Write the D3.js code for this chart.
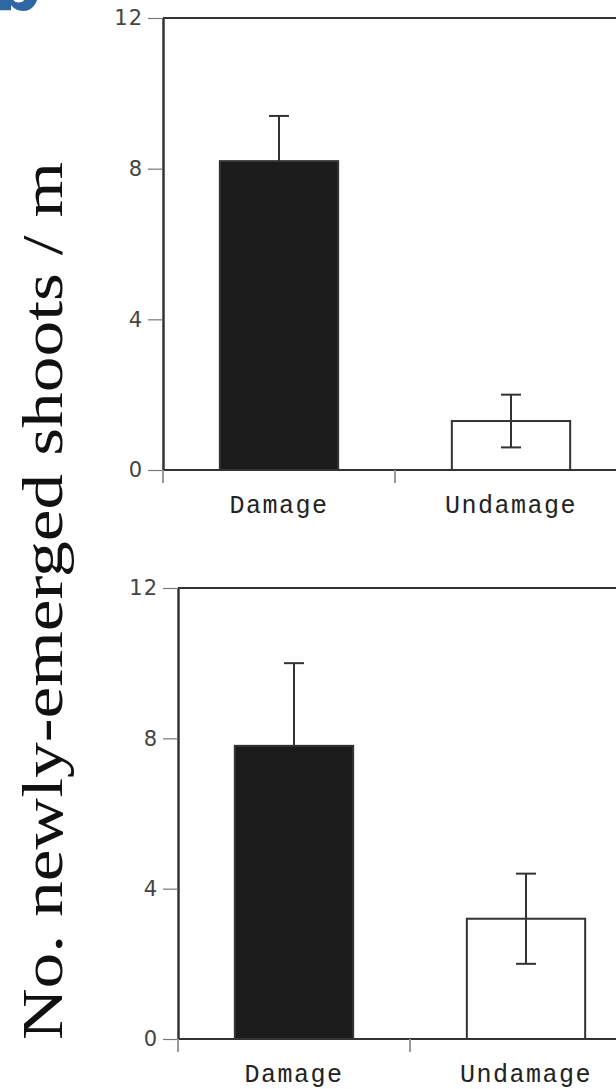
<!DOCTYPE html>
<html>
<head>
<meta charset="utf-8">
<script src="https://cdn.jsdelivr.net/npm/d3@7"></script>
<style>
  html, body { margin: 0; padding: 0; background: #fff; }
  svg { display: block; }
</style>
</head>
<body>
<div id="container"></div>
<script>
// data
const categories = ['Damage', 'Undamage'];
const yTicks = [0, 4, 8, 12];
const yLabel = 'No. newly-emerged shoots / m';
const topMeans = [8.2, 1.3];
const topErrors = [1.2, 0.7];
const bottomMeans = [7.8, 3.2];
const bottomErrors = [2.2, 1.2];
const barFills = ['#1b1b1b', '#ffffff'];

const width = 616, height = 1089;
const svg = d3.select('#container').append('svg').attr('width', width).attr('height', height);

// blue panel letter, cropped at the top edge
svg.append('text').attr('x', -6).attr('y', 10)
  .attr('font-family', 'DejaVu Sans').attr('font-weight', 'bold').attr('font-size', 66)
  .attr('fill', '#2f67a3').text('b');

// shared y label (stretched along its length like the original)
svg.append('text')
  .attr('transform', 'translate(62,601) rotate(-90)')
  .attr('text-anchor', 'middle')
  .attr('font-family', 'Liberation Serif').attr('font-size', 57)
  .attr('textLength', 878).attr('lengthAdjust', 'spacingAndGlyphs')
  .attr('fill', '#111').text(yLabel);

function panel(left, top, bottom, means, errs) {
  const x = d3.scaleBand().domain(categories).range([left, left + 464])
    .paddingInner(0.49).paddingOuter(0.245);
  const y = d3.scaleLinear().domain([0, 12]).range([bottom, top]);
  const g = svg.append('g');
  const stroke = '#333';

  // frame top line
  g.append('line').attr('x1', left).attr('x2', width).attr('y1', y(12)).attr('y2', y(12))
    .attr('stroke', stroke).attr('stroke-width', 2);

  // bars
  categories.forEach((c, i) => {
    g.append('rect').attr('x', x(c)).attr('y', y(means[i]))
      .attr('width', x.bandwidth()).attr('height', y(0) - y(means[i]))
      .attr('fill', barFills[i]).attr('stroke', stroke).attr('stroke-width', 2);
  });

  // error bars (lower half hidden inside the dark bar)
  categories.forEach((c, i) => {
    const cx = x(c) + x.bandwidth() / 2;
    const hi = y(means[i] + errs[i]), lo = y(means[i] - errs[i]);
    const dark = barFills[i] !== '#ffffff';
    const ends = dark ? [hi] : [hi, lo];
    g.append('line').attr('x1', cx).attr('x2', cx).attr('y1', hi).attr('y2', dark ? y(means[i]) : lo)
      .attr('stroke', stroke).attr('stroke-width', 2);
    ends.forEach(v => g.append('line').attr('x1', cx - 10).attr('x2', cx + 10)
      .attr('y1', v).attr('y2', v).attr('stroke', stroke).attr('stroke-width', 2));
  });

  // baseline
  g.append('line').attr('x1', left).attr('x2', width).attr('y1', y(0)).attr('y2', y(0))
    .attr('stroke', stroke).attr('stroke-width', 2);

  // y axis
  const ya = g.append('g').attr('transform', `translate(${left},0)`)
    .call(d3.axisLeft(y).tickValues(yTicks).tickSize(15).tickSizeOuter(0).tickPadding(5));
  ya.select('.domain').attr('stroke', stroke).attr('stroke-width', 2.5);
  ya.selectAll('.tick line').attr('stroke', '#777').attr('stroke-width', 1.2);
  ya.selectAll('.tick text').attr('font-family', 'DejaVu Sans').attr('font-size', 21)
    .attr('letter-spacing', 1).attr('fill', '#444');

  // category boundary ticks
  const half = x.step() * x.paddingInner() / 2;
  categories.forEach(c => {
    const bx = x(c) - half;
    g.append('line').attr('x1', bx).attr('x2', bx).attr('y1', y(0)).attr('y2', y(0) + 13)
      .attr('stroke', '#999').attr('stroke-width', 2);
  });

  // category labels
  categories.forEach(c => {
    g.append('text').attr('x', x(c) + x.bandwidth() / 2).attr('y', y(0) + 43)
      .attr('text-anchor', 'middle')
      .attr('font-family', 'Liberation Mono').attr('font-size', 25)
      .attr('letter-spacing', 1.5).attr('fill', '#222').text(c);
  });
}

panel(163, 18, 470, topMeans, topErrors);
panel(178, 588, 1039, bottomMeans, bottomErrors);
</script>
</body>
</html>
